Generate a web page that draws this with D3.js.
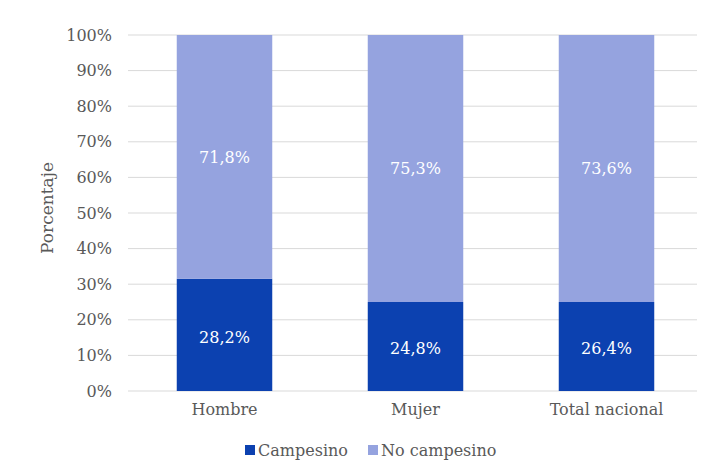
<!DOCTYPE html>
<html><head><meta charset="utf-8">
<script src="https://cdn.jsdelivr.net/npm/d3@7"></script>
<style>body{margin:0;background:#fff}</style>
</head><body>
<svg id="c" width="709" height="460"></svg>
<script>
const categories = ["Hombre", "Mujer", "Total nacional"];
// bar heights as drawn in the picture (%)
const campesino = [31.5, 25.0, 25.0];
const noCampesino = [68.5, 75.0, 75.0];
// labels printed on the bars
const campesinoLabels = ["28,2%", "24,8%", "26,4%"];
const noCampesinoLabels = ["71,8%", "75,3%", "73,6%"];
const yTicks = [0, 10, 20, 30, 40, 50, 60, 70, 80, 90, 100];
const seriesNames = ["Campesino", "No campesino"];
const colors = ["#0c41b0", "#95a3df"];

const svg = d3.select("#c");
const x = d3.scaleBand().domain(categories).range([129, 702]).paddingInner(0.5).paddingOuter(0.25);
const y = d3.scaleLinear().domain([0, 100]).range([391, 35]);
const serif = "'DejaVu Serif', serif";
const gray = "#595959";

// gridlines
svg.append("g").selectAll("line").data(yTicks).join("line")
  .attr("x1", 128).attr("x2", 697)
  .attr("y1", d => y(d)).attr("y2", d => y(d))
  .attr("stroke", "#d9d9d9").attr("stroke-width", 1);

// y tick labels
svg.append("g").selectAll("text").data(yTicks).join("text")
  .attr("x", 112).attr("y", d => y(d)).attr("dy", "0.35em")
  .attr("text-anchor", "end").attr("font-family", serif).attr("font-size", 16)
  .attr("fill", gray).text(d => d + "%");

// axis title
svg.append("text").attr("transform", "translate(53,208) rotate(-90)")
  .attr("text-anchor", "middle").attr("font-family", serif).attr("font-size", 17)
  .attr("fill", gray).text("Porcentaje");

// stacked bars
const stacked = categories.map((c, i) => ({c, a: campesino[i], b: noCampesino[i], la: campesinoLabels[i], lb: noCampesinoLabels[i]}));
const g = svg.append("g");
g.selectAll("rect.a").data(stacked).join("rect").attr("class", "a")
  .attr("x", d => x(d.c)).attr("width", x.bandwidth())
  .attr("y", d => y(d.a)).attr("height", d => y(0) - y(d.a)).attr("fill", colors[0]);
g.selectAll("rect.b").data(stacked).join("rect").attr("class", "b")
  .attr("x", d => x(d.c)).attr("width", x.bandwidth())
  .attr("y", d => y(d.a + d.b)).attr("height", d => y(d.a) - y(d.a + d.b)).attr("fill", colors[1]);

// labels
g.selectAll("text.a").data(stacked).join("text").attr("class", "a")
  .attr("x", d => x(d.c) + x.bandwidth() / 2).attr("y", d => (y(0) + y(d.a)) / 2 + 2)
  .attr("dy", "0.35em").attr("text-anchor", "middle").attr("font-family", serif)
  .attr("font-size", 16).attr("fill", "#fff").text(d => d.la);
g.selectAll("text.b").data(stacked).join("text").attr("class", "b")
  .attr("x", d => x(d.c) + x.bandwidth() / 2).attr("y", d => (y(d.a) + y(d.a + d.b)) / 2)
  .attr("dy", "0.35em").attr("text-anchor", "middle").attr("font-family", serif)
  .attr("font-size", 16).attr("fill", "#fff").text(d => d.lb);

// category labels
svg.append("g").selectAll("text").data(categories).join("text")
  .attr("x", d => x(d) + x.bandwidth() / 2).attr("y", 409).attr("dy", "0.35em")
  .attr("text-anchor", "middle").attr("font-family", serif).attr("font-size", 16)
  .attr("fill", gray).text(d => d);

// legend
const legX = [245, 368];
const lg = svg.append("g").selectAll("g").data(seriesNames).join("g")
  .attr("transform", (d, i) => `translate(${legX[i]},450)`);
lg.append("rect").attr("x", 0).attr("y", -5).attr("width", 10).attr("height", 10)
  .attr("fill", (d, i) => colors[i]);
lg.append("text").attr("x", 13).attr("dy", "0.35em").attr("font-family", serif)
  .attr("font-size", 16).attr("fill", gray).text(d => d);
</script>
</body></html>
